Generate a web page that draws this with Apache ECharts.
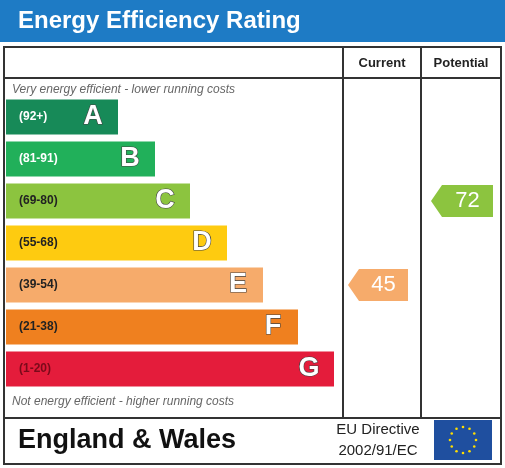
<!DOCTYPE html>
<html><head><meta charset="utf-8">
<script src="https://cdn.jsdelivr.net/npm/echarts@6/dist/echarts.min.js"></script>
<style>html,body{margin:0;padding:0;background:#fff}#c{width:505px;height:468px}</style>
</head><body><div id="c"></div>
<script>
const bands = ['A','B','C','D','E','F','G'];
const ranges = ['(92+)','(81-91)','(69-80)','(55-68)','(39-54)','(21-38)','(1-20)'];
const bandLength = [112,149,184,221,257,292,328];
const bandMin = [92,81,69,55,39,21,1];
const bandColors = ['#178a58','#21b05a','#8cc43f','#fecb10','#f6ab6b','#ef801f','#e41c3b'];
const rangeColors = ['#fff','#fff','#222','#222','#222','#222','#7a0a1a'];
const currentRating = 45;
const potentialRating = 72;

function bandOf(v){for(let i=0;i<bandMin.length;i++){if(v>=bandMin[i])return i;}return 6;}
const chart = echarts.init(document.getElementById('c'));
const F = 'Liberation Sans, Arial, sans-serif';

const stars = [];
for(let k=0;k<12;k++){const a=k*Math.PI/6;stars.push({type:'circle',shape:{cx:463+13*Math.cos(a),cy:440+13*Math.sin(a),r:1.3},style:{fill:'#ffdd00'}});}

function arrow(params, api){
  const y = api.coord([0, api.value(0)])[1];
  const col = api.value(2);
  const x0 = col===0 ? 348 : 431;
  const x1 = col===0 ? 408 : 493;
  const h = 16;
  const c = col===0 ? '#f6ab6b' : '#8cc43f';
  return {type:'group',children:[
    {type:'polygon',shape:{points:[[x0,y],[x0+11,y-h],[x1,y-h],[x1,y+h],[x0+11,y+h]]},style:{fill:c}},
    {type:'text',style:{text:String(api.value(1)),x:(x0+11+x1)/2,y:y,align:'center',verticalAlign:'middle',fill:'#fff',font:'22px '+F}}
  ]};
}

chart.setOption({
  animation:false,
  grid:{left:6,top:96,width:328,height:294},
  xAxis:{type:'value',min:0,max:328,show:false},
  yAxis:{type:'category',data:bands,inverse:true,show:false},
  graphic:[
    {type:'rect',shape:{x:0,y:0,width:505,height:42},style:{fill:'#1e7bc5'}},
    {type:'text',style:{text:'Energy Efficiency Rating',x:18,y:21,verticalAlign:'middle',fill:'#fff',font:'bold 24px '+F}},
    {type:'rect',shape:{x:4,y:47,width:497,height:417},style:{fill:'none',stroke:'#333',lineWidth:2}},
    {type:'line',shape:{x1:4,y1:78,x2:501,y2:78},style:{stroke:'#333',lineWidth:2}},
    {type:'line',shape:{x1:4,y1:418,x2:501,y2:418},style:{stroke:'#333',lineWidth:2}},
    {type:'line',shape:{x1:343,y1:47,x2:343,y2:418},style:{stroke:'#333',lineWidth:2}},
    {type:'line',shape:{x1:421,y1:47,x2:421,y2:418},style:{stroke:'#333',lineWidth:2}},
    {type:'text',style:{text:'Current',x:382,y:63,align:'center',verticalAlign:'middle',fill:'#222',font:'bold 13px '+F}},
    {type:'text',style:{text:'Potential',x:461,y:63,align:'center',verticalAlign:'middle',fill:'#222',font:'bold 13px '+F}},
    {type:'text',style:{text:'Very energy efficient - lower running costs',x:12,y:90,verticalAlign:'middle',fill:'#666',font:'italic 12px '+F}},
    {type:'text',style:{text:'Not energy efficient - higher running costs',x:12,y:402,verticalAlign:'middle',fill:'#666',font:'italic 12px '+F}},
    {type:'text',style:{text:'England & Wales',x:18,y:441,verticalAlign:'middle',fill:'#111',font:'bold 27px '+F}},
    {type:'text',style:{text:'EU Directive',x:378,y:430,align:'center',verticalAlign:'middle',fill:'#222',font:'15px '+F}},
    {type:'text',style:{text:'2002/91/EC',x:378,y:451,align:'center',verticalAlign:'middle',fill:'#222',font:'15px '+F}},
    {type:'rect',shape:{x:434,y:420,width:58,height:40},style:{fill:'#1f4f9f'}}
  ].concat(stars),
  series:[
    {type:'bar',barWidth:35,data:bandLength.map((v,i)=>({value:v,itemStyle:{color:bandColors[i]},
      label:{show:true,position:'inside',formatter:()=>'{r|'+ranges[i]+'}{l|'+bands[i]+'}',
        rich:{r:{fontSize:12,fontWeight:'bold',color:rangeColors[i],fontFamily:F,width:v-50,align:'left'},
              l:{fontSize:27,fontWeight:'bold',color:'#fff',textBorderColor:'#444',textBorderWidth:1.2,fontFamily:F,align:'center',width:24}}}}))},
    {type:'custom',renderItem:arrow,data:[[bandOf(currentRating),currentRating,0],[bandOf(potentialRating),potentialRating,1]]}
  ]
});
</script></body></html>
